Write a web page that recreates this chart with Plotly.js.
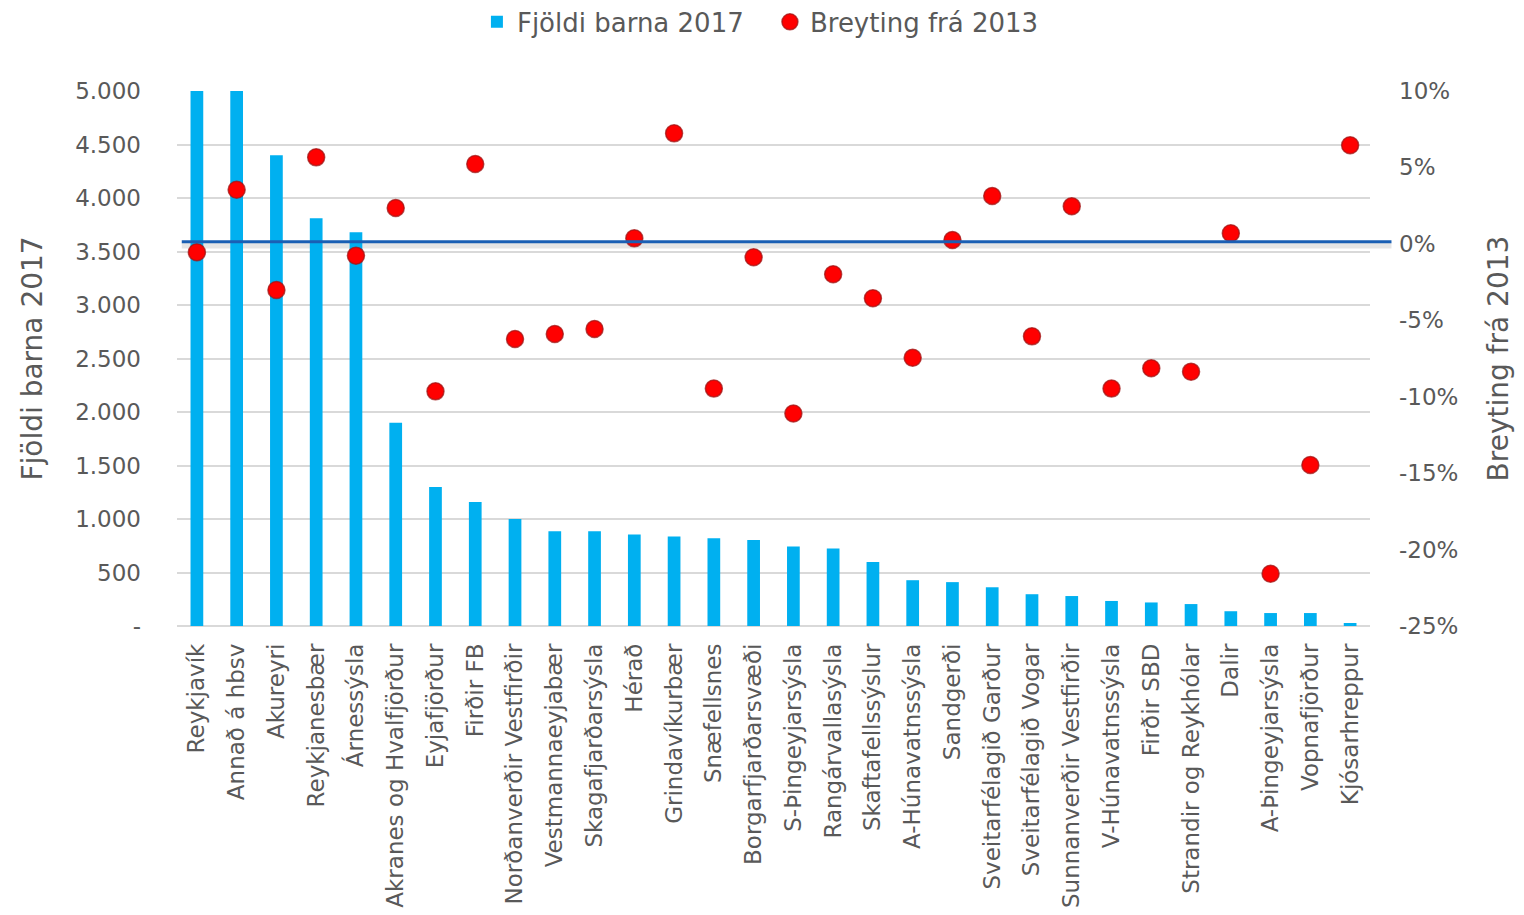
<!DOCTYPE html>
<html>
<head>
<meta charset="utf-8">
<script src="https://cdn.plot.ly/plotly-3.0.1.min.js"></script>
<style>html,body{margin:0;padding:0;background:#fff;}#chart{width:1524px;height:915px;}</style>
</head>
<body>
<div id="chart"></div>
<script>
const categories = ["Reykjavík","Annað á hbsv","Akureyri","Reykjanesbær","Árnessýsla","Akranes og Hvalfjörður","Eyjafjörður","Firðir FB","Norðanverðir Vestfirðir","Vestmannaeyjabær","Skagafjarðarsýsla","Hérað","Grindavíkurbær","Snæfellsnes","Borgarfjarðarsvæði","S-Þingeyjarsýsla","Rangárvallasýsla","Skaftafellssýslur","A-Húnavatnssýsla","Sandgerði","Sveitarfélagið Garður","Sveitarfélagið Vogar","Sunnanverðir Vestfirðir","V-Húnavatnssýsla","Firðir SBD","Strandir og Reykhólar","Dalir","A-Þingeyjarsýsla","Vopnafjörður","Kjósarhreppur"];
const children2017 = [5000,5000,4400,3810,3680,1900,1300,1160,1000,885,885,855,837,820,804,743,725,598,428,410,362,297,280,234,220,205,138,121,121,28];
const change2013 = [-0.55,3.54,-3.02,5.66,-0.77,2.35,-9.65,5.22,-6.22,-5.9,-5.57,0.36,7.23,-9.47,-0.88,-11.1,-1.99,-3.56,-7.45,0.25,3.13,-6.05,2.46,-9.47,-8.14,-8.36,0.69,-21.58,-14.47,6.45];
const leftTickVals = [0,500,1000,1500,2000,2500,3000,3500,4000,4500,5000];
const leftTickText = ["-","500","1.000","1.500","2.000","2.500","3.000","3.500","4.000","4.500","5.000"];
const rightTickVals = [-25,-20,-15,-10,-5,0,5,10];
const rightTickText = ["-25%","-20%","-15%","-10%","-5%","0%","5%","10%"];
const seriesNames = ["Fjöldi barna 2017","Breyting frá 2013"];

const txt = '#595959';
const font = 'DejaVu Sans, sans-serif';

const traces = [
  {type:'bar', x:categories, y:children2017, name:seriesNames[0], marker:{color:'#00B0F0'}, yaxis:'y', hoverinfo:'x+y'},
  {type:'scatter', mode:'markers', x:categories, y:change2013, name:seriesNames[1], yaxis:'y2',
   marker:{color:'#FF0000', size:17, line:{color:'rgba(160,20,20,0.75)', width:1.5}}, cliponaxis:false}
];

const layout = {
  width:1524, height:915,
  margin:{l:177, r:154, t:91, b:289, autoexpand:false},
  paper_bgcolor:'#fff', plot_bgcolor:'#fff',
  font:{family:font, color:txt, size:22},
  bargap:0.68,
  showlegend:true,
  legend:{orientation:'h', x:0.497, xanchor:'center', xref:'paper', y:0.976, yanchor:'middle', yref:'container', font:{size:26, color:txt}, itemwidth:30, entrywidth:248, traceorder:'normal'},
  xaxis:{type:'category', range:[-0.5,29.5], tickangle:-90, tickfont:{size:23, color:txt}, showgrid:false, showline:false, ticks:'', automargin:false, ticklabelstandoff:12},
  yaxis:{range:[0,5000], tickvals:leftTickVals, ticktext:leftTickText, tickfont:{size:23, color:txt},
    showgrid:true, gridcolor:'#D9D9D9', gridwidth:2, zeroline:true, zerolinecolor:'#D9D9D9', zerolinewidth:2,
    ticks:'', ticklabelstandoff:35, automargin:false,
    title:{text:seriesNames[0], font:{size:28, color:txt}, standoff:24}},
  yaxis2:{range:[-25,10], overlaying:'y', side:'right', tickvals:rightTickVals, ticktext:rightTickText,
    tickfont:{size:23, color:txt}, showgrid:false, zeroline:false, ticks:'', ticklabelstandoff:28, automargin:false,
    title:{text:seriesNames[1], font:{size:28, color:txt}, standoff:30}},
  shapes:[
    {type:'line', xref:'paper', yref:'y2', x0:0.004, x1:1.018, y0:-0.1, y1:-0.1, line:{color:'rgba(0,0,0,0.10)', width:6}, layer:'below'},
    {type:'line', xref:'paper', yref:'y2', x0:0.004, x1:1.018, y0:0.13, y1:0.13, line:{color:'#1A5FB4', width:3}, layer:'above'}
  ]
};

Plotly.newPlot('chart', traces, layout, {displayModeBar:false, responsive:false});
</script>
</body>
</html>
